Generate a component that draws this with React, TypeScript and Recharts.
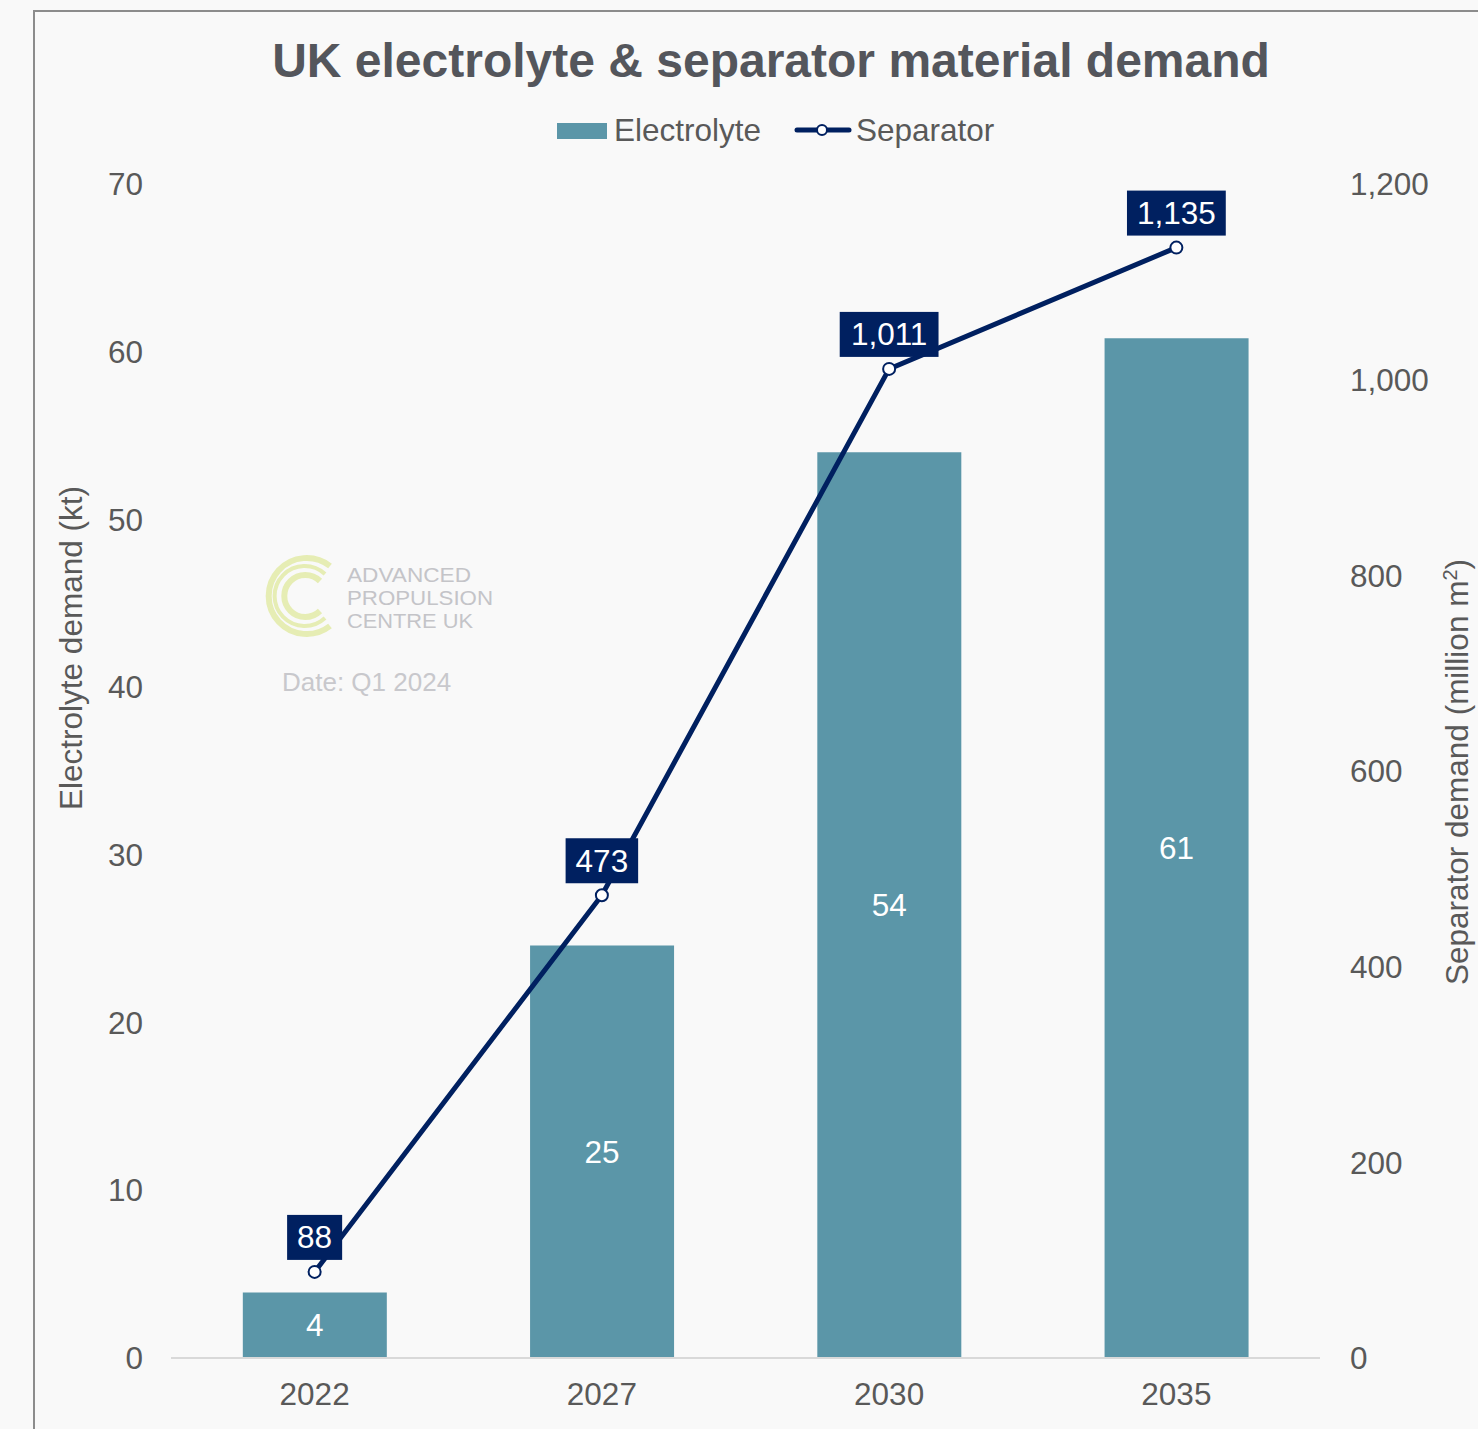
import React from 'react';
import { ComposedChart, Bar, Line, XAxis, YAxis, LabelList } from 'recharts';

const years = ['2022', '2027', '2030', '2035'];
const electrolyte = [3.9, 24.6, 54.0, 60.8];
const separator = [88, 473, 1011, 1135];
const leftTicks = [0, 10, 20, 30, 40, 50, 60, 70];
const rightTicks = [0, 200, 400, 600, 800, 1000, 1200];

const data = years.map((y, i) => ({ year: y, electrolyte: electrolyte[i], separator: separator[i] }));

const FONT = '"Liberation Sans", Arial, sans-serif';
const NAVY = '#002060';
const TEAL = '#5B96A8';
const GREY = '#595959';
const FS = 31.5;

const fmt = (v: number) => Math.round(v).toLocaleString('en-US');

const SepLabel = (props: any) => {
  const { x, y, value } = props;
  const txt = fmt(value);
  const digits = txt.replace(',', '').length;
  const w = digits * FS * 0.556 + (txt.includes(',') ? FS * 0.278 : 0) + 20;
  const h = 45;
  return (
    <g>
      <rect x={x - w / 2} y={y - 12 - h} width={w} height={h} fill={NAVY} />
      <text x={x} y={y - 12 - h / 2 + 11} textAnchor="middle" fill="#fff" fontSize={FS} fontFamily={FONT}>
        {txt}
      </text>
    </g>
  );
};

export default function App() {
  return (
    <div style={{ position: 'absolute', left: 0, top: 0, width: 1478, height: 1429, background: '#F9F9F9', overflow: 'hidden', fontFamily: FONT }}>
      <div style={{ position: 'absolute', left: 33, top: 10, width: 1500, height: 1500, borderLeft: '2px solid #8c8c8c', borderTop: '2px solid #8c8c8c' }} />
      <svg width={1478} height={1429} style={{ position: 'absolute', left: 0, top: 0 }}>
        <text x={771} y={77} textAnchor="middle" fontSize={48} fontWeight="bold" fill="#54565C" fontFamily={FONT}>
          UK electrolyte &amp; separator material demand
        </text>
        {/* legend */}
        <rect x={557} y={123} width={50} height={16} fill={TEAL} />
        <text x={614} y={141} fontSize={FS} fill={GREY} fontFamily={FONT}>Electrolyte</text>
        <line x1={797} y1={130} x2={849} y2={130} stroke={NAVY} strokeWidth={5} strokeLinecap="round" />
        <circle cx={822} cy={130} r={5} fill="#fff" stroke={NAVY} strokeWidth={2} />
        <text x={856} y={141} fontSize={FS} fill={GREY} fontFamily={FONT}>Separator</text>
        {/* axis titles */}
        <text transform="translate(82,648) rotate(-90)" textAnchor="middle" fontSize={FS} fill={GREY} fontFamily={FONT}>
          Electrolyte demand (kt)
        </text>
        <text transform="translate(1468,772) rotate(-90)" textAnchor="middle" fontSize={FS} fill={GREY} fontFamily={FONT}>
          Separator demand (million m<tspan dy={-11} fontSize={20}>2</tspan><tspan dy={11}>)</tspan>
        </text>
        {/* watermark */}
        <g fill="none" stroke="#E6EDB4">
          <path d="M 330 566 A 38 38 0 1 0 330 626" strokeWidth={6} />
          <path d="M 325 574 A 30 30 0 1 0 325 618" strokeWidth={4} />
          <path d="M 320 581 A 21 21 0 1 0 320 611" strokeWidth={6} />
        </g>
        <g fill="#C4C4C8" fontSize={20} fontFamily={FONT}>
          <text x={347} y={582} textLength={124} lengthAdjust="spacingAndGlyphs">ADVANCED</text>
          <text x={347} y={605} textLength={146} lengthAdjust="spacingAndGlyphs">PROPULSION</text>
          <text x={347} y={628} textLength={126} lengthAdjust="spacingAndGlyphs">CENTRE UK</text>
        </g>
        <text x={282} y={691} fontSize={26} fill="#C8C8CC" fontFamily={FONT}>Date: Q1 2024</text>
      </svg>
      <div style={{ position: 'absolute', left: 0, top: 0 }}>
        <ComposedChart width={1478} height={1429} data={data} margin={{ top: 184, right: 58, bottom: 21, left: 71 }} barCategoryGap="25%">
          <XAxis dataKey="year" tickLine={false} tickSize={0} tickMargin={25} axisLine={{ stroke: '#D9D9D9', strokeWidth: 2 }} tick={{ fontSize: FS, fill: GREY, fontFamily: FONT }} height={50} />
          <YAxis yAxisId="left" orientation="left" domain={[0, 70]} ticks={leftTicks} width={100} tickLine={false} tickSize={0} tickMargin={28} axisLine={false} tick={{ fontSize: FS, fill: GREY, fontFamily: FONT }} />
          <YAxis yAxisId="right" orientation="right" domain={[0, 1200]} ticks={rightTicks} width={100} tickLine={false} tickSize={0} tickMargin={30} axisLine={false} tick={{ fontSize: FS, fill: GREY, fontFamily: FONT }} tickFormatter={(v: number) => v.toLocaleString('en-US')} />
          <Bar yAxisId="left" dataKey="electrolyte" fill={TEAL} isAnimationActive={false}>
            <LabelList dataKey="electrolyte" position="center" fill="#fff" fontSize={FS} fontFamily={FONT} formatter={(v: any) => fmt(v)} />
          </Bar>
          <Line yAxisId="right" dataKey="separator" stroke={NAVY} strokeWidth={5} dot={{ r: 6, fill: '#fff', stroke: NAVY, strokeWidth: 2 }} isAnimationActive={false}>
            <LabelList dataKey="separator" content={<SepLabel />} />
          </Line>
        </ComposedChart>
      </div>
    </div>
  );
}
